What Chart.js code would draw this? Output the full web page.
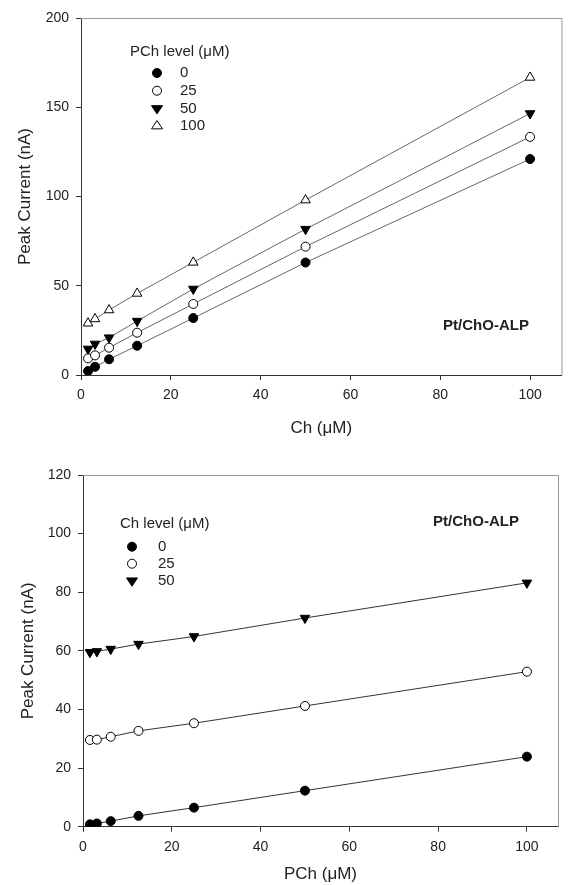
<!DOCTYPE html>
<html lang="ja">
<head>
<meta charset="UTF-8">
<title>Pt/ChO-ALP</title>
<script src="https://cdn.jsdelivr.net/npm/chart.js@4"></script>
<style>
  html, body { margin: 0; padding: 0; background: #fff; }
  .wrap { position: relative; width: 568px; height: 885px; }
  .panel { position: absolute; left: 0; width: 568px; }
  #topPanel { top: 0; height: 440px; }
  #bottomPanel { top: 440px; height: 445px; }
</style>
</head>
<body>
<div class="wrap">
  <div class="panel" id="topPanel"><canvas id="topChart" width="568" height="440"></canvas></div>
  <div class="panel" id="bottomPanel"><canvas id="bottomChart" width="568" height="445"></canvas></div>
</div>

<script>
// ===== データ =====
// 横軸の濃度（上: Ch、下: PCh）
const concentrations = [1.5625, 3.125, 6.25, 12.5, 25, 50, 100];

// 上段：PCh レベル別の電流 (nA)
const pchLevels = ["0", "25", "50", "100"];
const topPch0   = [2.2, 4.6, 8.8, 16.4, 31.9, 63.0, 121.0];
const topPch25  = [9.3, 11.0, 15.3, 23.7, 39.8, 71.9, 133.4];
const topPch50  = [14.6, 17.4, 20.9, 30.2, 48.2, 81.7, 146.5];
const topPch100 = [29.0, 31.4, 36.4, 45.7, 63.1, 98.0, 166.7];

// 下段：Ch レベル別の電流 (nA)
const chLevels  = ["0", "25", "50"];
const botCh0    = [0.8, 1.1, 1.9, 3.7, 6.5, 12.3, 23.9];
const botCh25   = [29.6, 29.7, 30.7, 32.7, 35.3, 41.2, 52.9];
const botCh50   = [59.5, 59.8, 60.6, 62.3, 64.9, 71.2, 83.2];

// 目盛り
const xTicks       = [0, 20, 40, 60, 80, 100];
const topYTicks    = [0, 50, 100, 150, 200];
const bottomYTicks = [0, 20, 40, 60, 80, 100, 120];

const FONT = "'Liberation Sans', Arial, Helvetica, sans-serif";
const INK  = "#222";

// マーカーの種類（●, ○, ▼, △）
const markers = [
  { pointStyle: "circle",   fill: "#000", rotation: 0,   radius: 4.5 },
  { pointStyle: "circle",   fill: "#fff", rotation: 0,   radius: 4.5 },
  { pointStyle: "triangle", fill: "#000", rotation: 180, radius: 5.5 },
  { pointStyle: "triangle", fill: "#fff", rotation: 0,   radius: 5.5 }
];

function makeDataset(label, values, i, lineColor) {
  const m = markers[i];
  return {
    label: label,
    data: values.map((v, k) => ({ x: concentrations[k], y: v })),
    showLine: true,
    borderColor: lineColor,
    borderWidth: 1,
    pointStyle: m.pointStyle,
    pointRotation: m.rotation,
    pointRadius: m.radius,
    pointHoverRadius: m.radius,
    pointBackgroundColor: m.fill,
    pointBorderColor: "#000",
    pointBorderWidth: 1
  };
}

// ── 凡例用マーカーを手で描く ──────────────────────────
function drawMarker(ctx, m, x, y) {
  const r = m.radius;
  ctx.beginPath();
  if (m.pointStyle === "circle") {
    ctx.arc(x, y, r, 0, Math.PI * 2);
  } else {
    const dir = m.rotation === 180 ? 1 : -1;
    const h = r * 1.5;
    ctx.moveTo(x, y + dir * h * 2 / 3);
    ctx.lineTo(x - r, y - dir * h / 3);
    ctx.lineTo(x + r, y - dir * h / 3);
    ctx.closePath();
  }
  ctx.fillStyle = m.fill;
  ctx.fill();
  ctx.lineWidth = 1;
  ctx.strokeStyle = "#000";
  ctx.stroke();
}

// ── 枠線・凡例・ラベル ──────────────────────────────
const panelDecor = {
  id: "panelDecor",
  beforeDatasetsDraw(chart) {
    const { ctx, chartArea: a } = chart;
    ctx.save();
    ctx.strokeStyle = "#999";
    ctx.lineWidth = 1;
    ctx.beginPath();
    ctx.moveTo(a.left, a.top + 0.5);
    ctx.lineTo(a.right + 0.5, a.top + 0.5);
    ctx.lineTo(a.right + 0.5, a.bottom);
    ctx.stroke();
    ctx.restore();
  },
  afterDatasetsDraw(chart, args, opts) {
    const ctx = chart.ctx;
    ctx.save();
    ctx.textBaseline = "middle";
    ctx.fillStyle = INK;
    ctx.font = "15px " + FONT;
    ctx.textAlign = "left";
    ctx.fillText(opts.title, opts.titleX, opts.titleY);
    chart.data.datasets.forEach(function (ds, i) {
      const y = opts.firstY + i * opts.rowGap;
      drawMarker(ctx, markers[i], opts.markerX, y);
      ctx.fillStyle = INK;
      ctx.fillText(ds.label, opts.textX, y);
    });
    ctx.font = "bold 15px " + FONT;
    ctx.textAlign = "center";
    ctx.fillText(opts.tag, opts.tagX, opts.tagY);
    ctx.restore();
  }
};

function makeOptions(cfg) {
  return {
    responsive: false,
    animation: false,
    layout: { padding: { top: cfg.padTop, right: cfg.padRight, left: 0, bottom: 0 } },
    plugins: {
      legend: { display: false },
      tooltip: { enabled: false },
      panelDecor: cfg.decor
    },
    scales: {
      x: {
        type: "linear",
        min: 0,
        max: 107,
        afterBuildTicks: s => { s.ticks = xTicks.map(v => ({ value: v })); },
        afterFit: s => { s.height = cfg.xHeight; },
        ticks: { color: INK, font: { family: FONT, size: 14 }, padding: 7 },
        grid: { display: true, drawOnChartArea: false, tickLength: 5, color: "#333" },
        border: { display: true, color: "#333", width: 1 },
        title: {
          display: true, text: cfg.xTitle, color: INK,
          font: { family: FONT, size: 17 }, padding: { top: 0, bottom: cfg.xTitlePad }
        }
      },
      y: {
        type: "linear",
        min: 0,
        max: cfg.yMax,
        afterBuildTicks: s => { s.ticks = cfg.yTicks.map(v => ({ value: v })); },
        afterFit: s => { s.width = cfg.yWidth; },
        ticks: { color: INK, font: { family: FONT, size: 14 }, padding: 7 },
        grid: { display: true, drawOnChartArea: false, tickLength: 5, color: "#333" },
        border: { display: true, color: "#333", width: 1 },
        title: {
          display: true, text: "Peak Current (nA)", color: INK,
          font: { family: FONT, size: 17 }, padding: { top: cfg.yTitlePad, bottom: 0 }
        }
      }
    }
  };
}

// ===== 上段：Ch 濃度 vs 電流 =====
new Chart(document.getElementById("topChart"), {
  type: "scatter",
  data: {
    datasets: [topPch0, topPch25, topPch50, topPch100].map((vals, i) => makeDataset(pchLevels[i], vals, i, "#666"))
  },
  options: makeOptions({
    padTop: 18, padRight: 5, xHeight: 65, yWidth: 81, yMax: 200, yTicks: topYTicks,
    xTitle: "Ch (μM)", xTitlePad: 1.8, yTitlePad: 14.8,
    decor: {
      title: "PCh level (μM)", titleX: 130, titleY: 52,
      markerX: 157, textX: 180, firstY: 73, rowGap: 17.7,
      tag: "Pt/ChO-ALP", tagX: 486, tagY: 326
    }
  }),
  plugins: [panelDecor]
});

// ===== 下段：PCh 濃度 vs 電流 =====
new Chart(document.getElementById("bottomChart"), {
  type: "scatter",
  data: {
    datasets: [botCh0, botCh25, botCh50].map((vals, i) => makeDataset(chLevels[i], vals, i, "#333"))
  },
  options: makeOptions({
    padTop: 35, padRight: 10, xHeight: 58.3, yWidth: 83, yMax: 120, yTicks: bottomYTicks,
    xTitle: "PCh (μM)", xTitlePad: 0, yTitlePad: 18.3,
    decor: {
      title: "Ch level (μM)", titleX: 120, titleY: 84,
      markerX: 132, textX: 158, firstY: 106.7, rowGap: 17,
      tag: "Pt/ChO-ALP", tagX: 476, tagY: 82
    }
  }),
  plugins: [panelDecor]
});
</script>
</body>
</html>
